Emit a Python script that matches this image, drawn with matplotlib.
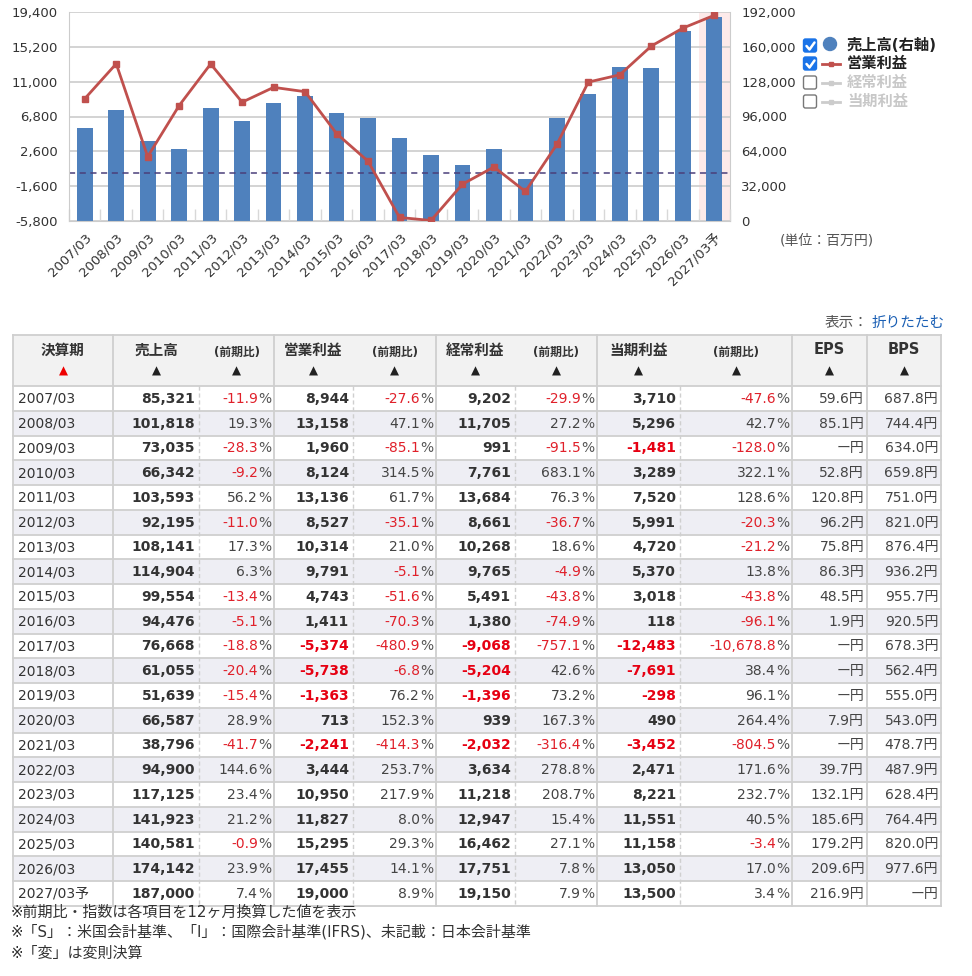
import numpy as np
import matplotlib
matplotlib.use("Agg")
import matplotlib.pyplot as plt
from matplotlib.patches import Rectangle, FancyBboxPatch, Circle

plt.rcParams['font.family'] = ['DejaVu Sans', 'Noto Sans CJK JP']

# ---------------- data ----------------
years = ['2007/03', '2008/03', '2009/03', '2010/03', '2011/03', '2012/03', '2013/03',
         '2014/03', '2015/03', '2016/03', '2017/03', '2018/03', '2019/03', '2020/03',
         '2021/03', '2022/03', '2023/03', '2024/03', '2025/03', '2026/03', '2027/03予']
sales = [85321, 101818, 73035, 66342, 103593, 92195, 108141, 114904, 99554, 94476, 76668,
         61055, 51639, 66587, 38796, 94900, 117125, 141923, 140581, 174142, 187000]
sales_yoy = [-11.9, 19.3, -28.3, -9.2, 56.2, -11.0, 17.3, 6.3, -13.4, -5.1, -18.8, -20.4,
             -15.4, 28.9, -41.7, 144.6, 23.4, 21.2, -0.9, 23.9, 7.4]
op_profit = [8944, 13158, 1960, 8124, 13136, 8527, 10314, 9791, 4743, 1411, -5374, -5738,
             -1363, 713, -2241, 3444, 10950, 11827, 15295, 17455, 19000]
op_yoy = [-27.6, 47.1, -85.1, 314.5, 61.7, -35.1, 21.0, -5.1, -51.6, -70.3, -480.9, -6.8,
          76.2, 152.3, -414.3, 253.7, 217.9, 8.0, 29.3, 14.1, 8.9]
ord_profit = [9202, 11705, 991, 7761, 13684, 8661, 10268, 9765, 5491, 1380, -9068, -5204,
              -1396, 939, -2032, 3634, 11218, 12947, 16462, 17751, 19150]
ord_yoy = [-29.9, 27.2, -91.5, 683.1, 76.3, -36.7, 18.6, -4.9, -43.8, -74.9, -757.1, 42.6,
           73.2, 167.3, -316.4, 278.8, 208.7, 15.4, 27.1, 7.8, 7.9]
net_profit = [3710, 5296, -1481, 3289, 7520, 5991, 4720, 5370, 3018, 118, -12483, -7691,
              -298, 490, -3452, 2471, 8221, 11551, 11158, 13050, 13500]
net_yoy = [-47.6, 42.7, -128.0, 322.1, 128.6, -20.3, -21.2, 13.8, -43.8, -96.1, -10678.8,
           38.4, 96.1, 264.4, -804.5, 171.6, 232.7, 40.5, -3.4, 17.0, 3.4]
eps = [59.6, 85.1, None, 52.8, 120.8, 96.2, 75.8, 86.3, 48.5, 1.9, None, None, None, 7.9,
       None, 39.7, 132.1, 185.6, 179.2, 209.6, 216.9]
bps = [687.8, 744.4, 634.0, 659.8, 751.0, 821.0, 876.4, 936.2, 955.7, 920.5, 678.3, 562.4,
       555.0, 543.0, 478.7, 487.9, 628.4, 764.4, 820.0, 977.6, None]

left_ticks = [-5800, -1600, 2600, 6800, 11000, 15200, 19400]
right_ticks = [0, 32000, 64000, 96000, 128000, 160000, 192000]

legend_labels = ['売上高(右軸)', '営業利益', '経常利益', '当期利益']
legend_on = [True, True, False, False]

headers = ['決算期', '売上高', '(前期比)', '営業利益', '(前期比)', '経常利益', '(前期比)',
           '当期利益', '(前期比)', 'EPS', 'BPS']
notes = ['※前期比・指数は各項目を12ヶ月換算した値を表示',
         '※「S」：米国会計基準、「I」：国際会計基準(IFRS)、未記載：日本会計基準',
         '※「変」は変則決算']

# ---------------- figure ----------------
W, H = 972, 976
fig = plt.figure(figsize=(W / 100, H / 100), dpi=100)
fig.patch.set_facecolor('white')

BAR = '#4f81bd'
LINE = '#c0504d'
TXT = '#333333'
GRID = '#cccccc'

n = len(years)
x = np.arange(n)

ax = fig.add_axes([69 / W, 1 - 221 / H, (730 - 69) / W, (221 - 12) / H])
ax2 = ax.twinx()
ax.set_zorder(2)
ax2.set_zorder(1)
ax.patch.set_visible(False)

# forecast highlight
for i, y in enumerate(years):
    if y.endswith('予'):
        ax2.axvspan(i - 0.5, i + 0.5, color='#fdeaea', zorder=0, lw=0)

ax2.bar(x, sales, width=0.5, color=BAR, zorder=2)
ax2.set_ylim(0, 192000)
ax2.set_yticks(right_ticks)
ax2.set_yticklabels([f'{v:,}' for v in right_ticks])
ax2.set_axisbelow(True)
ax2.yaxis.grid(True, color=GRID, lw=1.2, zorder=1)

ax.plot(x, op_profit, color=LINE, lw=2, marker='s', ms=4, zorder=3)
ax.axhline(0, color='#4a3f7a', ls=(0, (4, 3)), lw=1.1, zorder=2)
ax.set_ylim(-5800, 19400)
ax.set_yticks(left_ticks)
ax.set_yticklabels([f'{v:,}' for v in left_ticks])
ax.set_xlim(-0.5, n - 0.5)
ax.set_xticks(x)
ax.set_xticklabels(years, rotation=45, ha='right', rotation_mode='anchor')
ax.set_xticks(np.arange(-0.5, n, 1.0), minor=True)

for a in (ax, ax2):
    for s in a.spines.values():
        s.set_visible(False)
ax.spines['left'].set_visible(True)
ax.spines['left'].set_color(GRID)
ax.spines['bottom'].set_visible(True)
ax.spines['bottom'].set_color(GRID)
ax2.spines['right'].set_visible(True)
ax2.spines['right'].set_color(GRID)

ax.tick_params(axis='y', length=0, labelsize=9.5, labelcolor=TXT, pad=8)
ax2.tick_params(axis='y', length=0, labelsize=9.5, labelcolor=TXT, pad=8)
ax.tick_params(axis='x', which='major', length=0, labelsize=9.5, labelcolor=TXT, pad=7)
ax.tick_params(axis='x', which='minor', direction='in', length=9, color='#d8d8d8', width=1)

# ---------------- overlay for legend / table (pixel coordinates) ----------------
ov = fig.add_axes([0, 0, 1, 1], zorder=0)
ov.set_xlim(0, W)
ov.set_ylim(H, 0)
ov.axis('off')
ov.patch.set_visible(False)

# legend
leg_y = [46, 64, 83, 102]
for k, (lab, on) in enumerate(zip(legend_labels, legend_on)):
    yc = leg_y[k]
    if on:
        ov.add_patch(FancyBboxPatch((803.5, yc - 7), 13, 13,
                                    boxstyle='round,pad=0,rounding_size=2',
                                    fc='#1a73e8', ec='#1a73e8', lw=1))
        ov.plot([806.5, 809.5, 814.5], [yc, yc + 3.5, yc - 3.5], color='white', lw=1.8,
                solid_capstyle='round', solid_joinstyle='round')
    else:
        ov.add_patch(FancyBboxPatch((803.5, yc - 7), 13, 13,
                                    boxstyle='round,pad=0,rounding_size=2',
                                    fc='white', ec='#777777', lw=1))
    col = '#222222' if on else '#c8c8c8'
    if k == 0:
        ov.add_patch(Circle((830, yc - 2), 6.5, color=BAR))
    else:
        lc = LINE if on else '#cccccc'
        ov.plot([822, 840], [yc, yc], color=lc, lw=2)
        ov.plot([831], [yc], marker='s', ms=3.5, color=lc)
    ov.text(847, yc - 1, lab, fontsize=11, fontweight='bold', color=col,
            va='center', ha='left')

ov.text(780, 240, '(単位：百万円)', fontsize=10, color='#555555', va='center', ha='left')

# "表示：折りたたむ"
ov.text(945, 322, '折りたたむ', fontsize=10.5, color='#1a5fb4', ha='right', va='center')
ov.text(868, 322, '表示：', fontsize=10.5, color='#555555', ha='right', va='center')

# table geometry
edges = [13, 113, 199, 274, 353, 436, 515, 597, 680, 792, 867, 941]
dashed_edges = {199, 353, 515, 680}
h_top, h_bot = 335, 386
row_h = 24.75
t_bot = h_bot + row_h * n

# header background
ov.add_patch(Rectangle((edges[0], h_top), edges[-1] - edges[0], h_bot - h_top,
                       fc='#f2f2f2', ec='none'))
for i in range(n):
    yt = h_bot + i * row_h
    fc = '#eeeef4' if i % 2 == 1 else 'white'
    ov.add_patch(Rectangle((edges[0], yt), edges[-1] - edges[0], row_h, fc=fc, ec='none'))

# horizontal lines
for i in range(n + 1):
    yy = h_bot + i * row_h
    ov.plot([edges[0], edges[-1]], [yy, yy], color='#cfcfcf', lw=1.3)
ov.plot([edges[0], edges[-1]], [h_top, h_top], color='#cfcfcf', lw=1.3)

# vertical lines
for e in edges:
    if e in dashed_edges:
        ov.plot([e, e], [h_bot, t_bot], color='#cfcfcf', lw=1, ls=(0, (3, 2)))
    else:
        ov.plot([e, e], [h_top, t_bot], color='#cfcfcf', lw=1.3)

# header text
for j, hd in enumerate(headers):
    xc = (edges[j] + edges[j + 1]) / 2
    if hd.startswith('('):
        ov.text(xc, 352, hd, fontsize=8.5, color='#333333', ha='center', va='center',
                fontweight='bold')
    else:
        ov.text(xc, 350, hd, fontsize=10.5, color='#333333', ha='center', va='center',
                fontweight='bold')
    tri_c = '#ee0000' if j == 0 else '#222222'
    ov.text(xc, 371, '▲', fontsize=8.5, color=tri_c, ha='center', va='center')

RED_B = '#e60012'
RED = '#e0202a'
NUM = '#333333'
PCT_W = 13.0


def draw_val(xr, yc, v):
    c = RED_B if v < 0 else NUM
    ov.text(xr, yc, f'{v:,}', fontsize=10, fontweight='bold', color=c,
            ha='right', va='center')


def draw_pct(xr, yc, v):
    c = RED if v < 0 else '#444444'
    ov.text(xr, yc, '%', fontsize=10, color='#555555', ha='right', va='center')
    ov.text(xr - PCT_W, yc, f'{v:,.1f}', fontsize=10, color=c, ha='right', va='center')


def draw_yen(xr, yc, v):
    s = 'ー' if v is None else f'{v:,.1f}'
    ov.text(xr, yc, s + '円', fontsize=10, color='#444444', ha='right', va='center')


for i in range(n):
    yc = h_bot + (i + 0.5) * row_h + 0.5
    ov.text(edges[0] + 5, yc, years[i], fontsize=10, color='#333333', ha='left', va='center')
    draw_val(edges[2] - 4, yc, sales[i])
    draw_pct(edges[3] - 3, yc, sales_yoy[i])
    draw_val(edges[4] - 4, yc, op_profit[i])
    draw_pct(edges[5] - 3, yc, op_yoy[i])
    draw_val(edges[6] - 4, yc, ord_profit[i])
    draw_pct(edges[7] - 3, yc, ord_yoy[i])
    draw_val(edges[8] - 4, yc, net_profit[i])
    draw_pct(edges[9] - 3, yc, net_yoy[i])
    draw_yen(edges[10] - 3, yc, eps[i])
    draw_yen(edges[11] - 3, yc, bps[i])

for k, t in enumerate(notes):
    ov.text(11, [912, 932, 953][k], t, fontsize=10.8, color='#333333', ha='left', va='center')

fig.savefig('out.png', dpi=100, facecolor='white')
